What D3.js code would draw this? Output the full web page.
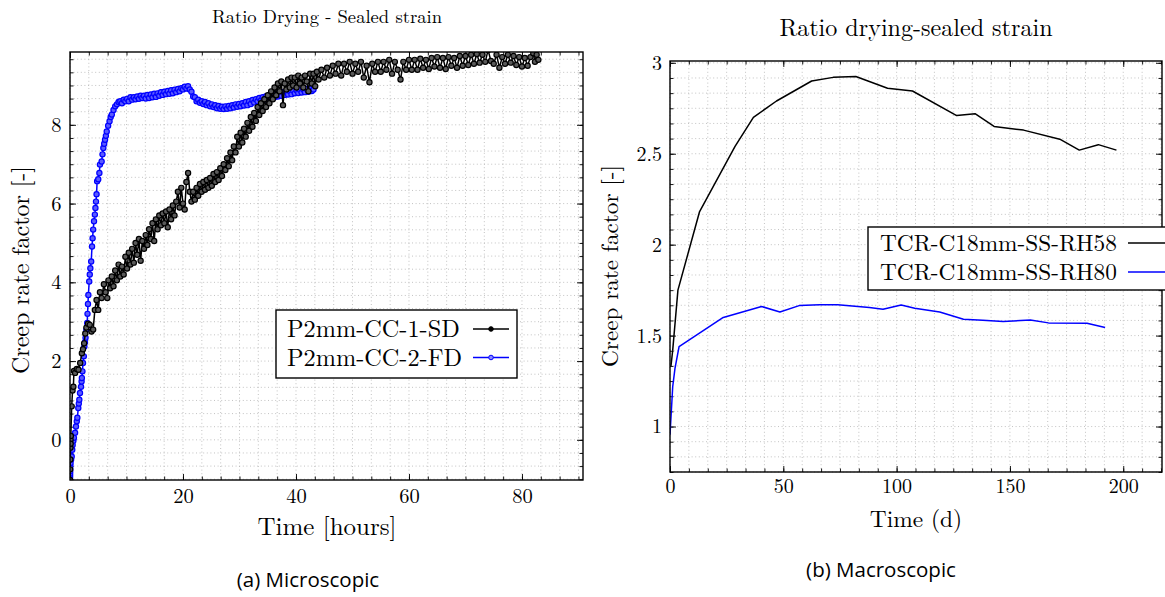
<!DOCTYPE html>
<html><head><meta charset="utf-8">
<script src="https://cdn.jsdelivr.net/npm/d3@7"></script>
<style>body{margin:0;background:#fff}svg{display:block}</style>
</head><body><svg id="c" width="1165" height="597"></svg>
<script>
// ---------- DATA ----------
const titleL = "Ratio Drying - Sealed strain";
const titleR = "Ratio drying-sealed strain";
const namesL = ["P2mm-CC-1-SD", "P2mm-CC-2-FD"];
const namesR = ["TCR-C18mm-SS-RH58", "TCR-C18mm-SS-RH80"];
const xTicksL = [0, 20, 40, 60, 80];
const yTicksL = [0, 2, 4, 6, 8];
const xTicksR = [0, 50, 100, 150, 200];
const yTicksR = [1, 1.5, 2, 2.5, 3];

// P2mm-CC-1-SD  [time h, factor]
const sd1 = [[0,-1.02],[0.03,-0.75],[0.05,-0.5],[0.08,-0.2],[0.1,0.0],[0.12,-0.1],[0.15,0.1],[0.3,0.85],[0.45,1.25],[0.6,1.35],
[0.7,1.75],[0.9,1.7],[1.2,1.8],[1.5,1.78],[1.8,1.95],[2.1,2.2],[2.3,2.3],[2.5,2.45],[2.7,2.7],[2.9,2.85],
[3.2,2.95],[3.5,2.92],[3.8,2.75],[4.1,2.8],[4.4,3.3],[4.7,3.55],[5.0,3.3],[5.3,3.75],[5.6,3.6],[6.0,3.95],
[6.3,3.75],[6.6,3.6],[6.8,4.05],[7.1,3.85],[7.4,4.15],[7.7,3.9],[8.0,4.3],[8.3,4.05],[8.6,4.45],[8.9,4.15],
[9.2,4.4],[9.5,4.2],[9.8,4.65],[10.1,4.35],[10.4,4.75],[10.7,4.45],[11.0,4.85],[11.3,4.5],[11.6,5.0],[11.9,4.7],
[12.2,5.1],[12.5,4.55],[12.8,5.05],[13.1,4.85],[13.4,5.2],[13.7,4.95],[14.0,5.35],[14.3,5.1],[14.6,5.5],[14.9,5.05],
[15.2,5.6],[15.5,5.35],[15.8,5.7],[16.1,5.45],[16.4,5.75],[16.7,5.5],[17.0,5.8],[17.3,5.4],[17.6,5.85],[17.9,5.6],
[18.2,5.95],[18.5,5.7],[18.8,6.05],[19.1,6.3],[19.4,5.9],[19.7,6.4],[20.0,6.0],[20.3,5.85],[20.6,6.55],[20.9,6.78],
[21.2,6.3],[21.5,6.05],[21.8,6.3],[22.1,6.1],[22.4,6.4],[22.7,6.2],[23.0,6.5],[23.3,6.3],[23.6,6.55],[23.9,6.35],
[24.2,6.6],[24.5,6.4],[24.8,6.65],[25.1,6.45],[25.4,6.75],[25.7,6.55],[26.0,6.8],[26.3,6.6],[26.6,6.9],[26.9,6.7],
[27.2,7.0],[27.5,6.85],[27.8,7.15],[28.1,6.95],[28.4,7.3],[28.7,7.1],[29.0,7.45],[29.3,7.3],[29.6,7.7],[29.9,7.45],
[30.2,7.8],[30.5,7.55],[30.8,7.9],[31.1,7.7],[31.4,8.05],[31.7,7.85],[32.0,8.2],[32.3,7.95],[32.6,8.3],[32.9,8.1],
[33.2,8.45],[33.5,8.25],[33.8,8.55],[34.1,8.35],[34.4,8.65],[34.7,8.45],[35.0,8.75],[35.3,8.55],[35.6,8.85],[35.9,8.65],
[36.2,8.95],[36.5,8.75],[36.8,9.05],[37.1,8.85],[37.4,9.1],[37.7,8.5],[38.0,9.05],[38.3,8.9],[38.6,9.15],[38.9,8.95],
[39.2,9.2],[39.5,9.0],[39.8,9.2],[40.1,8.95],[40.4,9.25],[40.7,9.05],[41.0,9.2],[41.3,8.95],[41.6,9.25],[41.9,9.1],
[42.2,8.85],[42.5,9.3],[42.8,9.05],[43.1,9.3],[43.4,8.98],[43.7,9.35],[44.0,9.15],[44.5,9.4],[45.0,9.2],[45.5,9.45],
[46.0,9.25],[46.5,9.5],[47.0,9.3],[47.5,9.55],[48.0,9.25],[48.5,9.55],[49.0,9.35],[49.5,9.6],[50.0,9.3],[50.5,9.55],
[51.0,9.35],[51.5,9.6],[52.0,9.2],[52.5,9.5],[53.0,9.08],[53.5,9.55],[54.0,9.35],[54.5,9.6],[55.0,9.35],[55.5,9.6],
[56.0,9.4],[56.5,9.65],[57.0,9.3],[57.5,9.6],[58.0,9.4],[58.5,9.15],[59.0,9.6],[59.5,9.4],[60.0,9.65],[60.5,9.4],
[61.0,9.65],[61.5,9.4],[62.0,9.68],[62.5,9.45],[63.0,9.65],[63.5,9.42],[64.0,9.7],[64.5,9.48],[65.0,9.72],[65.5,9.45],
[66.0,9.7],[66.5,9.42],[67.0,9.72],[67.5,9.5],[68.0,9.7],[68.5,9.45],[69.0,9.75],[69.5,9.5],[70.0,9.75],[70.5,9.52],
[71.0,9.78],[71.5,9.55],[72.0,9.8],[72.5,9.58],[73.0,9.78],[73.5,9.6],[74.0,9.9],[74.5,9.62],[75.0,9.55],[75.5,9.78],
[76.0,9.45],[76.5,9.72],[77.0,9.55],[77.5,9.78],[78.0,9.58],[78.5,9.75],[79.0,9.52],[79.5,9.72],[80.0,9.48],[80.5,9.7],
[81.0,9.5],[81.5,9.72],[82.0,9.82],[82.3,9.6],[82.6,9.78],[82.9,9.65]];

// P2mm-CC-2-FD  [time h, factor]
const fd2 = [[0,-1.02],[0.01,-0.97],[0.02,-0.92],[0.03,-0.86],[0.04,-0.8],[0.05,-0.74],[0.07,-0.66],[0.1,-0.59],[0.2,-0.5],[0.3,-0.42],
[0.4,-0.25],[0.47,-0.13],[0.6,-0.02],[0.7,0.05],[0.9,0.18],[1.06,0.34],[1.2,0.47],[1.3,0.56],[1.47,0.81],[1.56,0.92],
[1.65,1.02],[1.77,1.19],[1.95,1.35],[2.05,1.48],[2.1,1.57],[2.2,1.74],[2.3,1.95],[2.45,2.12],[2.55,2.37],[2.65,2.48],
[2.75,2.59],[2.9,2.8],[3.05,2.97],[3.1,3.2],[3.18,3.45],[3.25,3.68],[3.4,4.02],[3.5,4.2],[3.6,4.36],[3.75,4.53],
[3.9,4.91],[4.0,5.12],[4.1,5.34],[4.25,5.55],[4.4,5.72],[4.5,5.89],[4.6,6.05],[4.7,6.24],[4.8,6.57],[5.0,6.62],
[5.2,6.78],[5.3,6.99],[5.6,7.07],[5.75,7.25],[5.9,7.41],[6.05,7.52],[6.2,7.62],[6.35,7.72],[6.5,7.83],[6.75,7.98],
[7.0,8.09],[7.2,8.2],[7.4,8.26],[7.7,8.38],[8.0,8.47],[8.3,8.52],[8.6,8.58],[8.9,8.6],[9.2,8.55],[9.5,8.64],
[9.8,8.6],[10.1,8.66],[10.4,8.6],[10.7,8.7],[11.0,8.64],[11.3,8.7],[11.6,8.65],[11.9,8.72],[12.2,8.66],[12.5,8.74],
[12.8,8.68],[13.1,8.74],[13.4,8.67],[13.7,8.76],[14.0,8.68],[14.3,8.77],[14.6,8.7],[14.9,8.79],[15.2,8.71],[15.5,8.8],
[15.8,8.74],[16.1,8.83],[16.4,8.76],[16.7,8.84],[17.0,8.78],[17.3,8.86],[17.6,8.79],[17.9,8.88],[18.2,8.8],[18.5,8.89],
[18.8,8.83],[19.1,8.91],[19.4,8.85],[19.7,8.93],[20.0,8.9],[20.3,8.97],[20.6,8.92],[20.9,8.98],[21.2,8.9],[21.5,8.84],
[21.8,8.72],[22.1,8.7],[22.4,8.6],[22.7,8.64],[23.0,8.56],[23.3,8.6],[23.6,8.53],[23.9,8.58],[24.2,8.5],[24.5,8.55],
[24.8,8.47],[25.1,8.52],[25.4,8.45],[25.7,8.5],[26.0,8.42],[26.3,8.48],[26.6,8.41],[26.9,8.46],[27.2,8.4],[27.5,8.47],
[27.8,8.41],[28.1,8.48],[28.4,8.42],[28.7,8.5],[29.0,8.44],[29.3,8.52],[29.6,8.46],[29.9,8.53],[30.2,8.47],[30.5,8.55],
[30.8,8.49],[31.1,8.58],[31.4,8.5],[31.7,8.6],[32.0,8.53],[32.3,8.63],[32.6,8.57],[32.9,8.65],[33.2,8.6],[33.5,8.68],
[33.8,8.62],[34.1,8.7],[34.4,8.64],[34.7,8.73],[35.0,8.66],[35.3,8.75],[35.6,8.68],[35.9,8.77],[36.2,8.7],[36.5,8.79],
[36.8,8.72],[37.1,8.81],[37.4,8.74],[37.7,8.83],[38.0,8.76],[38.3,8.84],[38.6,8.77],[38.9,8.86],[39.2,8.78],[39.5,8.87],
[39.8,8.8],[40.1,8.88],[40.4,8.81],[40.7,8.89],[41.0,8.82],[41.3,8.9],[41.6,8.83],[41.9,8.91],[42.2,8.84],[42.5,8.92],
[42.8,8.86],[43.1,8.9]];

// TCR-C18mm-SS-RH58  [time d, factor]
const rh58 = [[0.4,1.33],[1.2,1.42],[3.5,1.75],[13,2.18],[28.7,2.54],[36.8,2.70],[47,2.79],[62.5,2.90],[72,2.92],[82,2.925],
[96,2.86],[107,2.845],[126.5,2.71],[134.6,2.72],[143,2.65],[156,2.63],[172,2.58],[180.6,2.52],[189,2.55],[197,2.52]];
// TCR-C18mm-SS-RH80
const rh80 = [[0,0.955],[1.2,1.22],[2.2,1.32],[4,1.44],[23.5,1.60],[40.4,1.66],[48.5,1.63],[57,1.665],[66,1.67],[74,1.67],
[88,1.654],[94,1.645],[102,1.668],[108,1.65],[119,1.63],[129.5,1.59],[138,1.585],[147,1.577],[159,1.586],[167,1.57],
[184,1.568],[192,1.544]];

// ---------- DRAW ----------
const SERIF = "'Latin Modern Roman','CMU Serif','Liberation Serif','Times New Roman',serif";
const SANS = "'Open Sans','Noto Sans',sans-serif";
const svg = d3.select("#c");
const BLUE = "#0000ff";

function minors(d, step){
  const a = Math.ceil(d[0]/step - 1e-6), b = Math.floor(d[1]/step + 1e-6);
  return d3.range(a, b+1).map(i => i*step);
}

function panel(cfg){
  const g = svg.append("g");
  const x = d3.scaleLinear().domain(cfg.xd).range([cfg.l, cfg.r]);
  const y = d3.scaleLinear().domain(cfg.yd).range([cfg.b, cfg.t]);
  const xm = minors(cfg.xd, cfg.xs/6), ym = minors(cfg.yd, cfg.ys/6);
  const grid = g.append("g").attr("stroke", "#b4b4b4").attr("stroke-width", 0.8).attr("stroke-dasharray", "1,2.6");
  grid.selectAll(".gx").data(xm).join("line").attr("x1", d=>x(d)).attr("x2", d=>x(d)).attr("y1", cfg.t).attr("y2", cfg.b);
  grid.selectAll(".gy").data(ym).join("line").attr("y1", d=>y(d)).attr("y2", d=>y(d)).attr("x1", cfg.l).attr("x2", cfg.r);
  const fmt = d => String(d);
  const ax = (axis, tr) => {
    const a = g.append("g").attr("transform", tr).call(axis);
    a.select(".domain").remove();
    a.selectAll("line").attr("stroke", "#000").attr("stroke-width", 0.9);
    a.selectAll("text").attr("font-family", SERIF).attr("font-size", cfg.tfs).attr("fill", "#000");
    return a;
  };
  ax(d3.axisBottom(x).tickValues(xm).tickSize(-3.5).tickFormat(""), `translate(0,${cfg.b})`);
  ax(d3.axisTop(x).tickValues(xm).tickSize(-3.5).tickFormat(""), `translate(0,${cfg.t})`);
  ax(d3.axisLeft(y).tickValues(ym).tickSize(-3.5).tickFormat(""), `translate(${cfg.l},0)`);
  ax(d3.axisRight(y).tickValues(ym).tickSize(-3.5).tickFormat(""), `translate(${cfg.r},0)`);
  ax(d3.axisBottom(x).tickValues(cfg.xt).tickSize(-6).tickPadding(cfg.xpad).tickFormat(fmt), `translate(0,${cfg.b})`);
  ax(d3.axisTop(x).tickValues(cfg.xt).tickSize(-6).tickFormat(""), `translate(0,${cfg.t})`);
  ax(d3.axisLeft(y).tickValues(cfg.yt).tickSize(-6).tickPadding(cfg.ypad).tickFormat(fmt), `translate(${cfg.l},0)`);
  ax(d3.axisRight(y).tickValues(cfg.yt).tickSize(-6).tickFormat(""), `translate(${cfg.r},0)`);
  const id = "clip" + cfg.id;
  svg.append("clipPath").attr("id", id).append("rect")
    .attr("x", cfg.l).attr("y", cfg.t).attr("width", cfg.r-cfg.l).attr("height", cfg.b-cfg.t);
  const data = g.append("g").attr("clip-path", `url(#${id})`);
  g.append("rect").attr("x", cfg.l).attr("y", cfg.t).attr("width", cfg.r-cfg.l).attr("height", cfg.b-cfg.t)
    .attr("fill", "none").attr("stroke", "#000").attr("stroke-width", 1.4);
  return {g, x, y, data};
}

// ---- left panel ----
const L = panel({id:"L", l:70, r:583, t:52, b:480, xd:[0,90.8], yd:[-1.02,9.85], xs:20, ys:2,
  xt:xTicksL, yt:yTicksL, tfs:20.5, xpad:8.5, ypad:8.5});
const lineL = d3.line().x(d=>L.x(d[0])).y(d=>L.y(d[1]));
function series(p, arr, line, color, markers, fill){
  p.data.append("path").datum(arr).attr("d", line).attr("fill", "none").attr("stroke", color)
    .attr("stroke-width", 1.5).attr("stroke-linejoin", "round");
  if (markers) {
    p.data.append("g").selectAll("circle").data(arr).join("circle")
      .attr("cx", d=>p.x(d[0])).attr("cy", d=>p.y(d[1])).attr("r", 2.6)
      .attr("fill", fill).attr("stroke", color).attr("stroke-width", 1.2);
  }
}
series(L, fd2, lineL, BLUE, true, "#5a5aff");
series(L, sd1, lineL, "#000", true, "#5a5a5a");

// left legend
const legL = L.g.append("g");
legL.append("rect").attr("x", 276).attr("y", 310).attr("width", 241).attr("height", 68)
  .attr("fill", "#fff").attr("stroke", "#000").attr("stroke-width", 1.4);
[[namesL[0], "#000", "#000"], [namesL[1], BLUE, "#8a8aff"]].forEach((s, i) => {
  const yy = 329 + i*28.5;
  legL.append("text").attr("x", 287).attr("y", yy + 8).text(s[0])
    .attr("font-family", SERIF).attr("font-size", 24.3);
  legL.append("line").attr("x1", 473).attr("x2", 509).attr("y1", yy).attr("y2", yy)
    .attr("stroke", s[1]).attr("stroke-width", 1.5);
  legL.append("circle").attr("cx", 491).attr("cy", yy).attr("r", 2.3).attr("fill", s[2]).attr("stroke", s[1]);
});

// ---- right panel ----
const R = panel({id:"R", l:670, r:1162, t:61, b:472, xd:[0,217.1], yd:[0.75,3.01], xs:50, ys:0.5,
  xt:xTicksR, yt:yTicksR, tfs:20, xpad:7, ypad:8});
const lineR = d3.line().x(d=>R.x(d[0])).y(d=>R.y(d[1]));
series(R, rh58, lineR, "#000", false);
series(R, rh80, lineR, BLUE, false);

const legR = R.g.append("g");
legR.append("rect").attr("x", 868).attr("y", 227).attr("width", 330).attr("height", 63)
  .attr("fill", "#fff").attr("stroke", "#000").attr("stroke-width", 1.4);
[[namesR[0], "#000"], [namesR[1], BLUE]].forEach((s, i) => {
  const yy = 243 + i*29;
  legR.append("text").attr("x", 880).attr("y", yy + 7.5).text(s[0])
    .attr("font-family", SERIF).attr("font-size", 23.3);
  legR.append("line").attr("x1", 1128).attr("x2", 1175).attr("y1", yy).attr("y2", yy)
    .attr("stroke", s[1]).attr("stroke-width", 1.5);
});

// ---- texts ----
function txt(x, y, s, size, fam, rot){
  const t = svg.append("text").attr("text-anchor", "middle").attr("font-family", fam).attr("font-size", size).text(s);
  if (rot) t.attr("transform", `translate(${x},${y}) rotate(-90)`); else t.attr("x", x).attr("y", y);
  return t;
}
txt(327, 23, titleL, 18.6, SERIF);
txt(916, 36, titleR, 24.1, SERIF);
txt(29, 270, "Creep rate factor [-]", 23.9, SERIF, true);
txt(618, 266, "Creep rate factor [-]", 23.2, SERIF, true);
txt(327, 535, "Time [hours]", 25, SERIF);
txt(916, 527, "Time (d)", 23.4, SERIF);
txt(308, 587, "(a) Microscopic", 20.5, SANS);
txt(881, 577, "(b) Macroscopic", 20.5, SANS);
</script></body></html>
